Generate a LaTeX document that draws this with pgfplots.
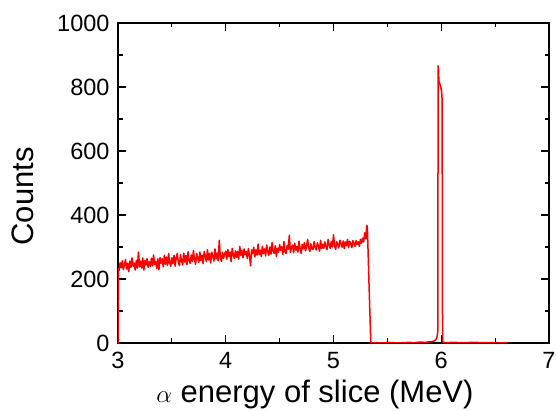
\documentclass[border=0pt]{standalone}
\usepackage{pgfplots}
\pgfplotsset{compat=1.18}
\usepackage{fontspec}
\setmainfont{Liberation Sans}

\begin{document}
\begin{tikzpicture}
\begin{axis}[
    scale only axis,
    width=431pt, height=320pt,
    xmin=3, xmax=7,
    ymin=0, ymax=1000,
    xtick={3,4,...,7},
    ytick={0,200,...,1000},
    minor tick num=1,
    tick align=inside,
    major tick length=8pt,
    minor tick length=4.5pt,
    axis line style={line width=1.2pt},
    every tick/.style={black, line width=1.2pt},
    /pgf/number format/assume math mode=true,
    /pgf/number format/1000 sep={},
    tick label style={font=\fontsize{23.5}{24}\selectfont},
    xticklabel style={yshift=-6pt},
    yticklabel style={xshift=-5pt},
    label style={font=\fontsize{31}{32}\selectfont},
    xlabel={$\alpha$ energy of slice (MeV)},
    ylabel={Counts},
    xlabel style={at={(axis description cs:0.457,-0.186)}, anchor=base},
    ylabel style={at={(axis description cs:-0.22,0.458)}, anchor=center},
]
\addplot[color=red, line width=1.5pt, line join=round] coordinates {
(3.000,0) (3.004,232)
(3.01,227) (3.02,251) (3.03,235) (3.04,257) (3.05,229) (3.06,245) (3.07,261) (3.08,231) (3.09,249) (3.10,223)
(3.11,256) (3.12,236) (3.13,266) (3.14,240) (3.15,250) (3.16,228) (3.17,258) (3.18,234) (3.19,284) (3.20,238)
(3.21,256) (3.22,234) (3.23,266) (3.24,228) (3.25,258) (3.26,244) (3.27,264) (3.28,236) (3.29,254) (3.30,240)
(3.31,265) (3.32,241) (3.33,275) (3.34,245) (3.35,255) (3.36,233) (3.37,263) (3.38,229) (3.39,267) (3.40,249)
(3.41,264) (3.42,238) (3.43,274) (3.44,246) (3.45,268) (3.46,242) (3.47,280) (3.48,250) (3.49,240) (3.50,266)
(3.51,248) (3.52,274) (3.53,240) (3.54,266) (3.55,280) (3.56,252) (3.57,242) (3.58,276) (3.59,256) (3.60,244)
(3.61,281) (3.62,253) (3.63,273) (3.64,245) (3.65,285) (3.66,257) (3.67,249) (3.68,275) (3.69,255) (3.70,289)
(3.71,260) (3.72,246) (3.73,280) (3.74,266) (3.75,252) (3.76,284) (3.77,258) (3.78,274) (3.79,248) (3.80,286)
(3.81,272) (3.82,254) (3.83,292) (3.84,260) (3.85,280) (3.86,250) (3.87,284) (3.88,270) (3.89,256) (3.90,294)
(3.91,263) (3.92,281) (3.93,257) (3.94,321) (3.95,267) (3.96,255) (3.97,283) (3.98,265) (3.99,279) (4.00,287)
(4.01,262) (4.02,292) (4.03,270) (4.04,284) (4.05,254) (4.06,296) (4.07,276) (4.08,264) (4.09,288) (4.10,268)
(4.11,286) (4.12,262) (4.13,302) (4.14,274) (4.15,290) (4.16,266) (4.17,294) (4.18,276) (4.19,286) (4.20,264)
(4.21,295) (4.22,273) (4.23,241) (4.24,291) (4.25,279) (4.26,299) (4.27,269) (4.28,291) (4.29,275) (4.30,309)
(4.31,276) (4.32,290) (4.33,270) (4.34,302) (4.35,280) (4.36,294) (4.37,272) (4.38,306) (4.39,286) (4.40,274)
(4.41,300) (4.42,278) (4.43,314) (4.44,286) (4.45,280) (4.46,304) (4.47,270) (4.48,296) (4.49,284) (4.50,308)
(4.51,289) (4.52,301) (4.53,277) (4.54,317) (4.55,285) (4.56,279) (4.57,305) (4.58,293) (4.59,337) (4.60,283)
(4.61,298) (4.62,306) (4.63,282) (4.64,312) (4.65,290) (4.66,302) (4.67,284) (4.68,318) (4.69,296) (4.70,280)
(4.71,308) (4.72,294) (4.73,314) (4.74,288) (4.75,302) (4.76,324) (4.77,296) (4.78,286) (4.79,310) (4.80,294)
(4.81,293) (4.82,317) (4.83,299) (4.84,291) (4.85,313) (4.86,305) (4.87,287) (4.88,321) (4.89,295) (4.90,309)
(4.91,296) (4.92,316) (4.93,302) (4.94,292) (4.95,324) (4.96,306) (4.97,296) (4.98,318) (4.99,300) (5.00,338)
(5.01,303) (5.02,293) (5.03,317) (5.04,309) (5.05,297) (5.06,321) (5.07,311) (5.08,299) (5.09,319) (5.10,295)
(5.11,316) (5.12,304) (5.13,324) (5.14,298) (5.15,318) (5.16,310) (5.17,298) (5.18,320) (5.19,312) (5.20,302)
(5.21,320) (5.22,308) (5.23,316) (5.24,302) (5.25,324) (5.26,312) (5.27,328) (5.28,316) (5.29,344) (5.30,326)
(5.305,352) (5.31,368) (5.315,355) (5.33,180) (5.346,2)
(5.36,0) (5.40,1) (5.45,0) (5.50,2) (5.55,1) (5.60,0) (5.65,1) (5.70,2) (5.75,1) (5.80,3) (5.85,2) (5.90,4)
(5.93,6) (5.95,10) (5.96,18) (5.968,35)
(5.971,866) (5.974,858) (5.978,820) (5.985,812) (5.995,800) (6.003,788) (6.008,762) (6.012,5)
(6.02,2) (6.05,1) (6.10,2) (6.20,1) (6.30,2) (6.40,1) (6.50,1) (6.62,0)
};
\end{axis}
\pgfresetboundingbox
\path (-118pt,-68pt) rectangle (438pt,343pt);
\end{tikzpicture}
\end{document}
